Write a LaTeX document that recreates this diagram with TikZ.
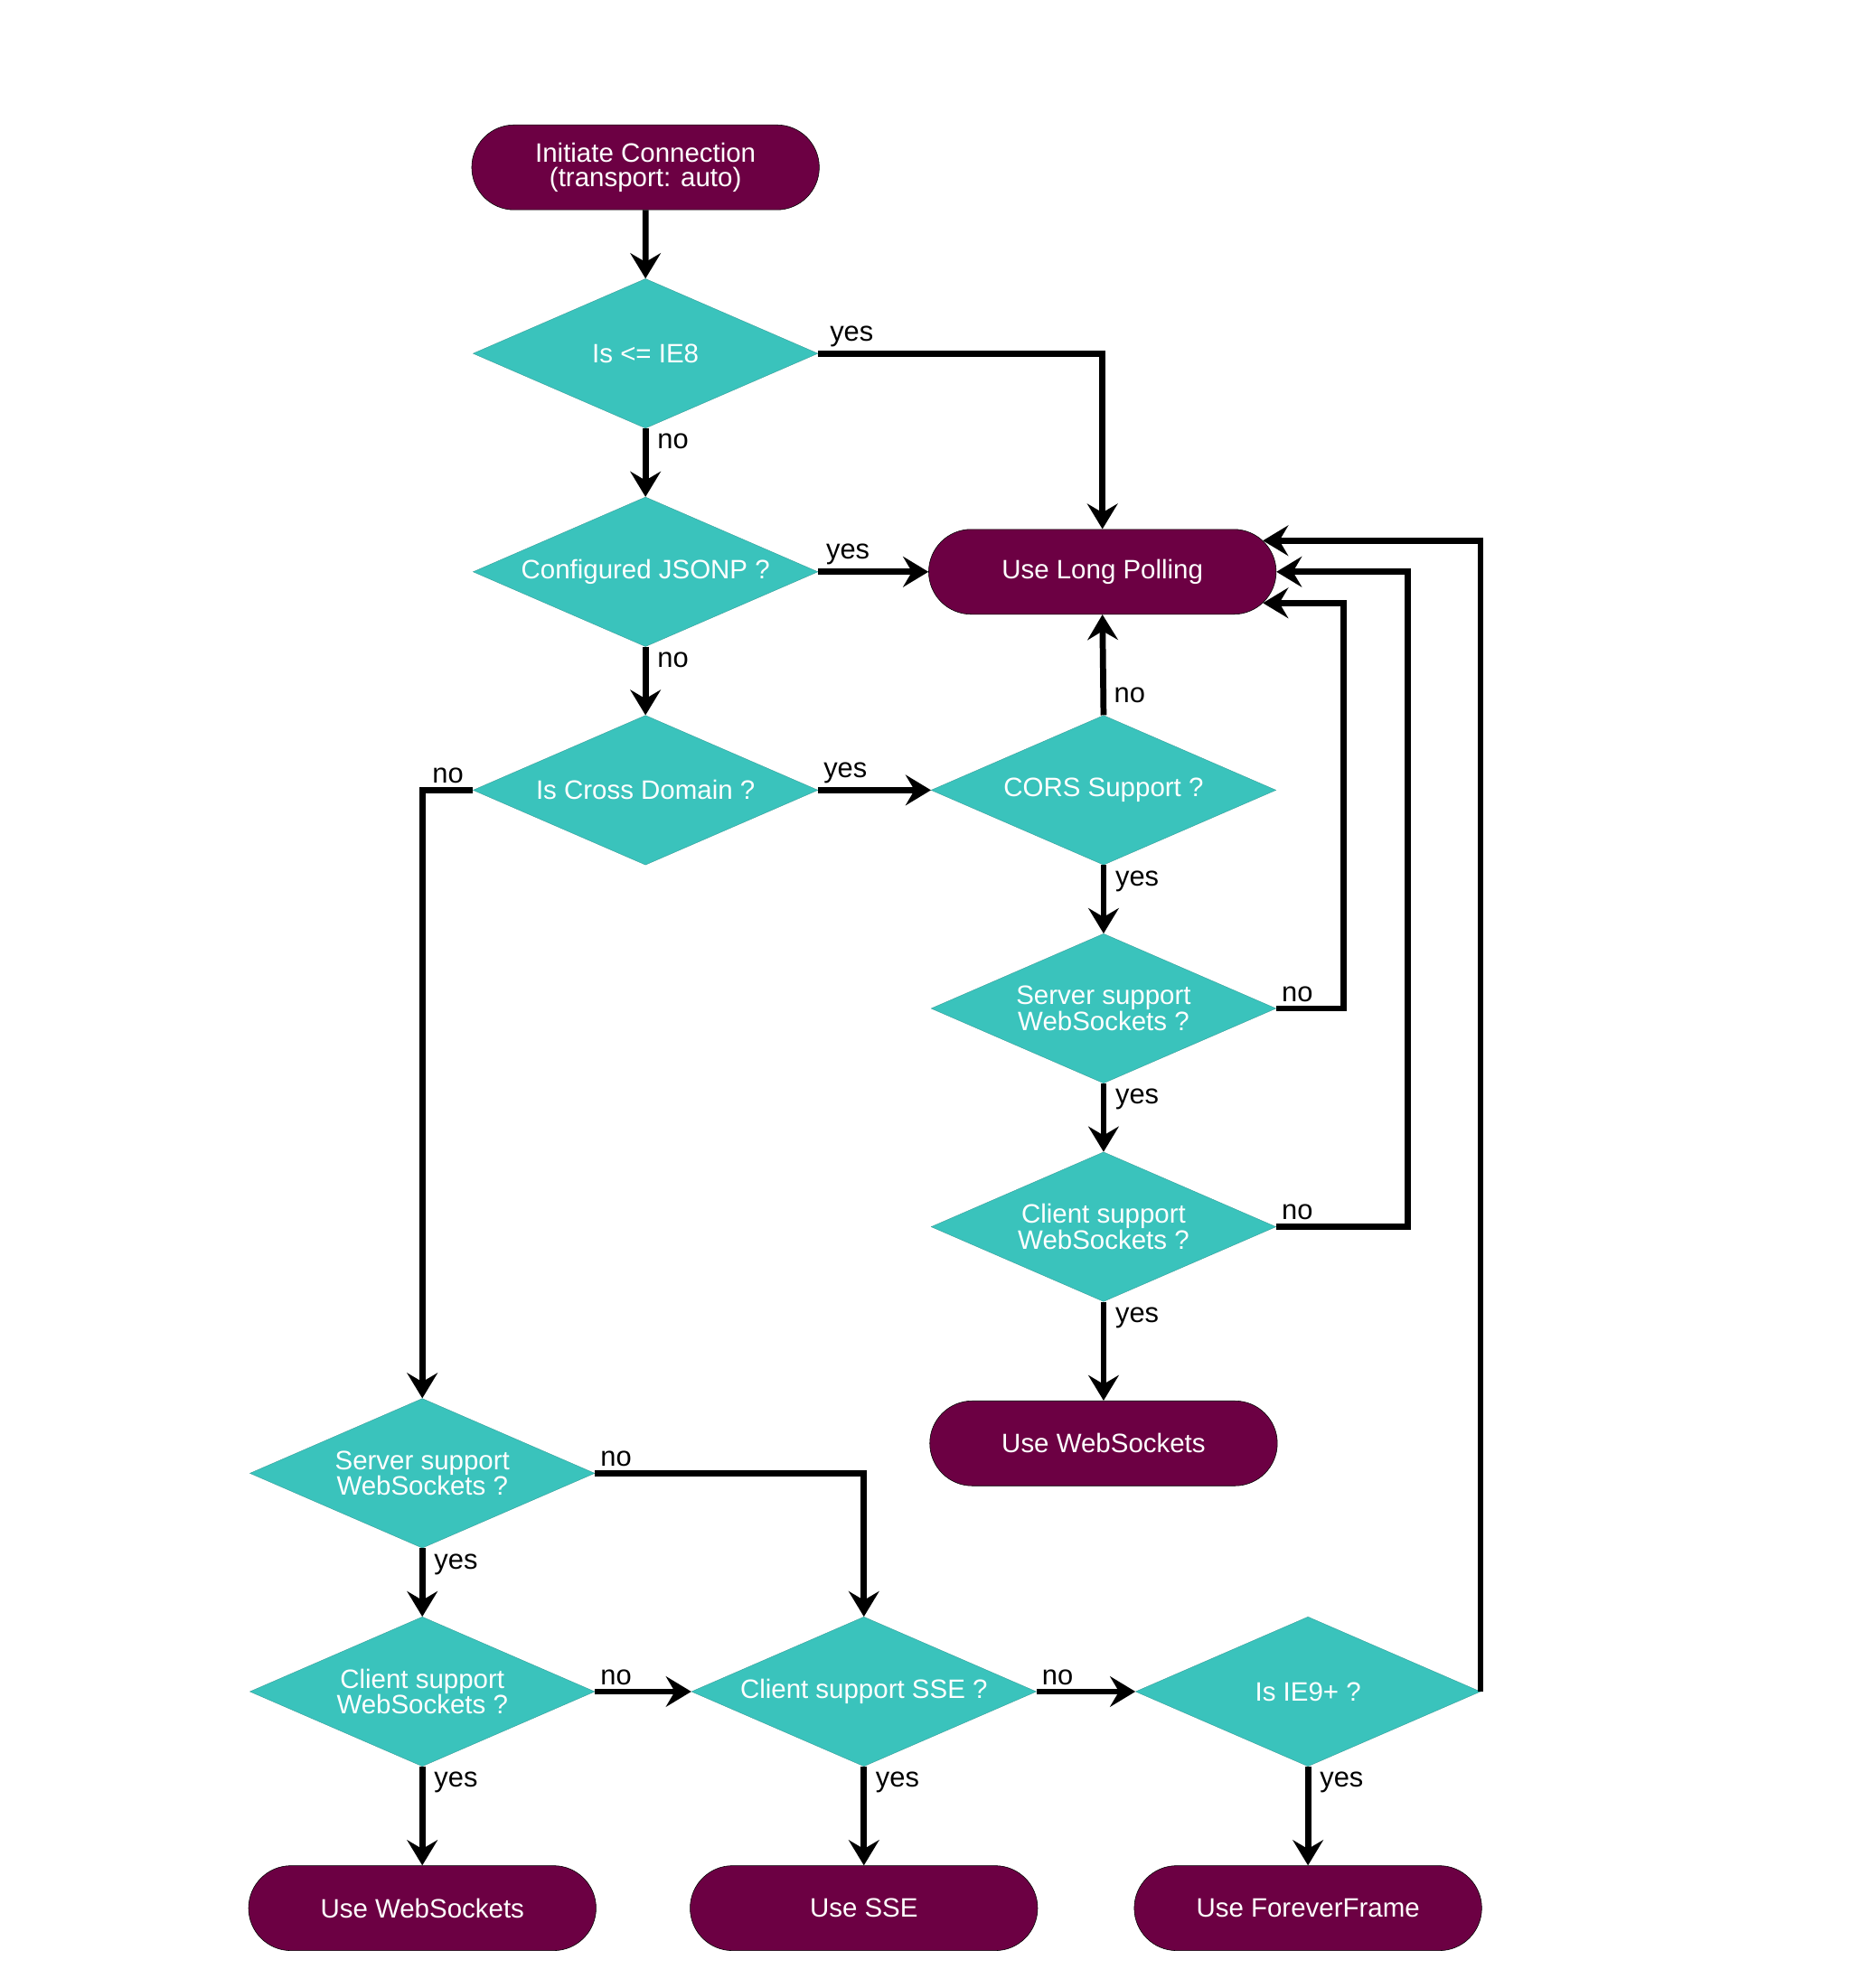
\documentclass[tikz,border=0pt]{standalone}
\usepackage{fontspec}
\setmainfont{Liberation Sans}
\usetikzlibrary{arrows.meta,positioning,shapes.geometric,shapes.misc}
\definecolor{Plum}{HTML}{6C0043}
\definecolor{Turq}{HTML}{3AC3BC}
\tikzset{
  term/.style={rounded rectangle, draw=black, fill=Plum, text=white, thin, minimum width=274pt, minimum height=67pt, inner sep=0pt, align=center, font=\fontsize{21}{19}\selectfont},
  decision/.style={diamond, draw=Turq!75!black, fill=Turq, text=white, very thin, minimum width=272pt, minimum height=118pt, aspect=2.3, inner sep=0pt, align=center, font=\fontsize{21}{19}\selectfont},
  arr/.style={-{Stealth[length=20pt, width=24pt, inset=7pt]}, line width=4.8pt, draw=black},
  lblup/.style={anchor=south west, inner sep=1pt, xshift=1pt, yshift=2pt, font=\fontsize{22}{24}\selectfont},
  lblupl/.style={anchor=south east, inner sep=1pt, xshift=-4pt, yshift=2pt, font=\fontsize{22}{24}\selectfont},
  lbldn/.style={anchor=north west, inner sep=1pt, xshift=6pt, yshift=-1pt, font=\fontsize{22}{24}\selectfont}
}
\begin{document}
\begin{tikzpicture}[x=1pt, y=-1pt, node distance=54pt]
\useasboundingbox (0,0) rectangle (1460,1568);
% main column
\node[term] (init) at (509,132) {Initiate Connection\\(transport: auto)};
\node[decision,below=of init] (ie8) {Is <= IE8};
\node[decision,below=of ie8] (jsonp) {Configured JSONP ?};
\node[decision,below=of jsonp] (cross) {Is Cross Domain ?};
% right column
\node[term,right=87pt of jsonp] (poll) {Use Long Polling};
\node[decision,right=89pt of cross] (cors) {CORS Support ?};
\node[decision,below=of cors] (srvr) {Server support\\WebSockets ?};
\node[decision,below=of srvr] (clir) {Client support\\WebSockets ?};
\node[term,below=78pt of clir] (wsr) {Use WebSockets};
% bottom rows
\node[decision] (srvl) at (333,1162) {Server support\\WebSockets ?};
\node[decision,below=of srvl] (clil) {Client support\\WebSockets ?};
\node[decision,right=76pt of clil] (sse) {Client support SSE ?};
\node[decision,right=78pt of sse] (ie9) {Is IE9+ ?};
\node[term,below=78pt of clil] (wsl) {Use WebSockets};
\node[term,below=78pt of sse] (usesse) {Use SSE};
\node[term,below=78pt of ie9] (frame) {Use ForeverFrame};
% connectors
\draw[arr] (init) -- (ie8);
\draw[arr] (ie8.east) node[lblup,xshift=5pt] {yes} -| (poll.north);
\draw[arr] (ie8.south) node[lbldn] {no} -- (jsonp.north);
\draw[arr] (jsonp.east) node[lblup,xshift=2pt] {yes} -- (poll.west);
\draw[arr] (jsonp.south) node[lbldn] {no} -- (cross.north);
\draw[arr] (cross.east) node[lblup] {yes} -- (cors.west);
\draw[arr] (cross.west) node[lblupl] {no} -| (srvl.north);
\draw[arr] (cors.north) node[lblup,xshift=4pt,yshift=4pt] {no} -- (poll.south);
\draw[arr] (cors.south) node[lbldn] {yes} -- (srvr.north);
\draw[arr] (srvr.east) node[lblup] {no} -- ++(53,0) |- (poll.-11);
\draw[arr] (srvr.south) node[lbldn] {yes} -- (clir.north);
\draw[arr] (clir.east) node[lblup] {no} -- ++(104,0) |- (poll.east);
\draw[arr] (clir.south) node[lbldn] {yes} -- (wsr.north);
\draw[arr] (srvl.east) node[lblup] {no} -| (sse.north);
\draw[arr] (srvl.south) node[lbldn] {yes} -- (clil.north);
\draw[arr] (clil.east) node[lblup] {no} -- (sse.west);
\draw[arr] (clil.south) node[lbldn] {yes} -- (wsl.north);
\draw[arr] (sse.east) node[lblup] {no} -- (ie9.west);
\draw[arr] (sse.south) node[lbldn] {yes} -- (usesse.north);
\draw[arr] (ie9.east) |- (poll.11);
\draw[arr] (ie9.south) node[lbldn] {yes} -- (frame.north);
\end{tikzpicture}
\end{document}
